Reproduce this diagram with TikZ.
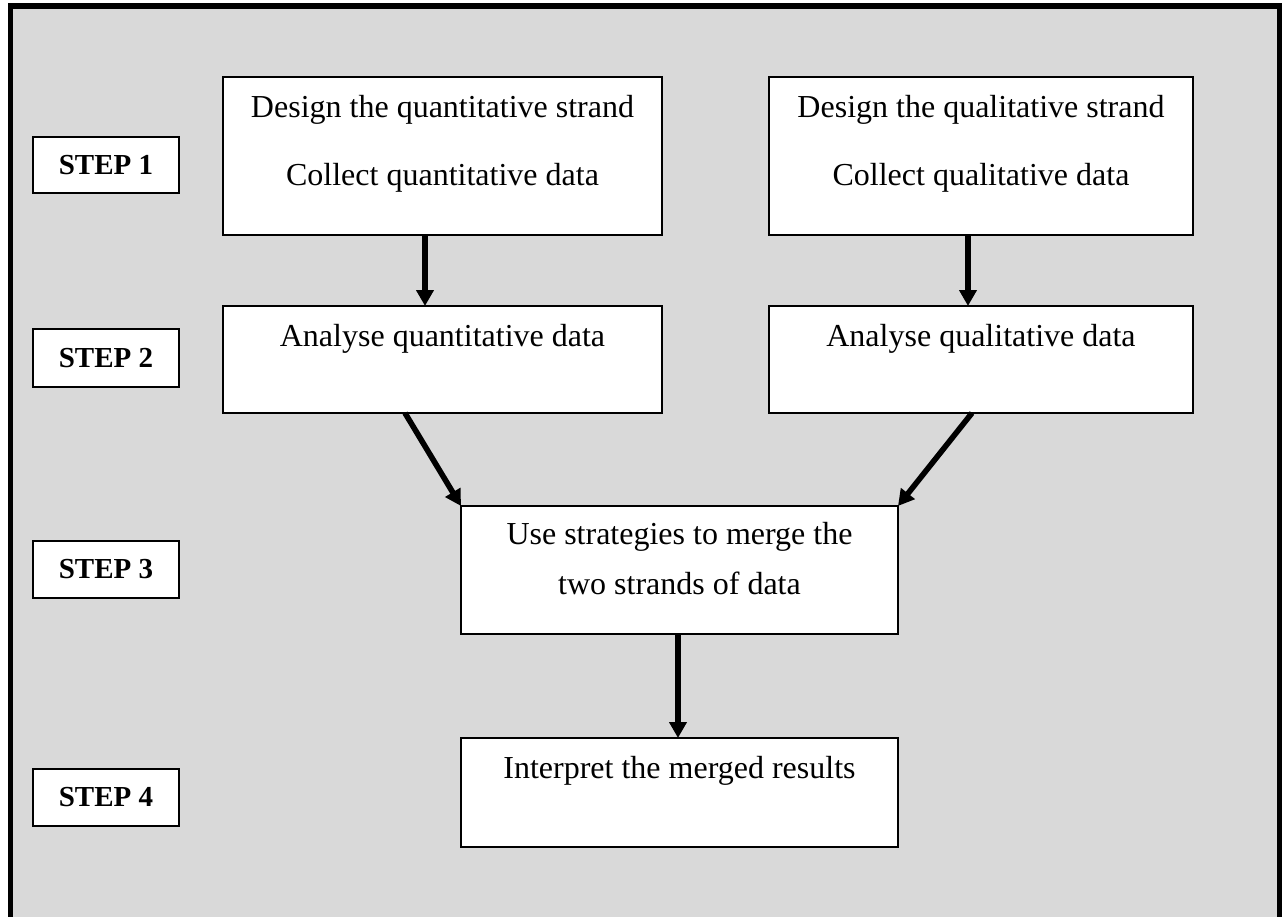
\documentclass[tikz,border=0pt]{standalone}
\usepackage{fontspec}
\setmainfont{Liberation Serif}
\usetikzlibrary{arrows.meta,calc}
\definecolor{panelgray}{HTML}{D9D9D9}
\tikzset{
  box/.style={draw=black, fill=white, line width=1pt, anchor=north west,
    inner sep=0pt, outer sep=0pt},
  steplabel/.style={box, font=\fontsize{14.5}{17}\selectfont\bfseries},
  boxtext/.style={anchor=base, inner sep=0pt, font=\fontsize{16}{19}\selectfont},
  flow/.style={line width=2.8pt, -{Triangle[width=8.5pt,length=8pt]}},
}
\begin{document}
\begin{tikzpicture}[x=0.5pt, y=-0.5pt]
\useasboundingbox (0,0) rectangle (1282,917);
\clip (0,0) rectangle (1282,917);

% outer panel
\fill[panelgray] (10.5,6) rectangle (1280,940);
\draw[line width=2.6pt] (10.5,6) rectangle (1280,940);

% step labels
\node[steplabel, minimum width=146*0.5pt, minimum height=56*0.5pt] (s1) at (33,137) {STEP 1};
\node[steplabel, minimum width=146*0.5pt, minimum height=58*0.5pt] (s2) at (33,329) {STEP 2};
\node[steplabel, minimum width=146*0.5pt, minimum height=57*0.5pt] (s3) at (33,541) {STEP 3};
\node[steplabel, minimum width=146*0.5pt, minimum height=57*0.5pt] (s4) at (33,769) {STEP 4};

% process boxes
\node[box, minimum width=439*0.5pt, minimum height=158*0.5pt] (q1) at (223,77) {};
\node[box, minimum width=424*0.5pt, minimum height=158*0.5pt] (l1) at (769,77) {};
\node[box, minimum width=439*0.5pt, minimum height=107*0.5pt] (q2) at (223,306) {};
\node[box, minimum width=424*0.5pt, minimum height=107*0.5pt] (l2) at (769,306) {};
\node[box, minimum width=437*0.5pt, minimum height=128*0.5pt] (q3) at (461,506) {};
\node[box, minimum width=437*0.5pt, minimum height=109*0.5pt] (q4) at (461,738) {};

% box texts, set from the top of each box
\node[boxtext] (q1a) at ([yshift=-20pt]q1.north) {Design the quantitative strand};
\node[boxtext] (q1b) at ([yshift=-54pt]q1.north) {Collect quantitative data};
\node[boxtext] (l1a) at ([yshift=-20pt]l1.north) {Design the qualitative strand};
\node[boxtext] (l1b) at ([yshift=-54pt]l1.north) {Collect qualitative data};
\node[boxtext] (q2a) at ([yshift=-20pt]q2.north) {Analyse quantitative data};
\node[boxtext] (l2a) at ([yshift=-20pt]l2.north) {Analyse qualitative data};
\node[boxtext] (q3a) at ([yshift=-19pt]q3.north) {Use strategies to merge the};
\node[boxtext] (q3b) at ([yshift=-44pt]q3.north) {two strands of data};
\node[boxtext] (q4a) at ([yshift=-20pt]q4.north) {Interpret the merged results};

% connectors
\draw[flow] ([xshift=-8.75pt]q1.south) -- ([xshift=-8.75pt]q2.north);
\draw[flow] ([xshift=-6.5pt]l1.south) -- ([xshift=-6.5pt]l2.north);
\draw[flow] ([xshift=-18.75pt]q2.south) -- (q3.north west);
\draw[flow] ([xshift=-4.5pt]l2.south) -- (q3.north east);
\draw[flow] ([xshift=-0.75pt]q3.south) -- ([xshift=-0.75pt]q4.north);
\end{tikzpicture}
\end{document}
